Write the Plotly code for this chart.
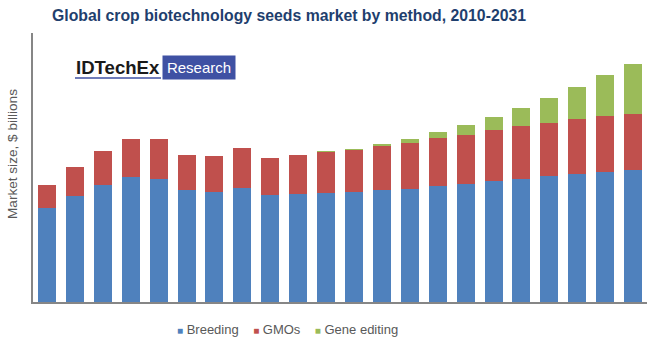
import plotly.graph_objects as go

years = [str(y) for y in range(2010, 2032)]
breeding = [9.4, 10.6, 11.7, 12.5, 12.3, 11.2, 11.0, 11.4, 10.7, 10.8, 10.9, 11.0,
            11.2, 11.3, 11.6, 11.8, 12.1, 12.3, 12.6, 12.8, 13.0, 13.2]
gmos = [2.3, 2.9, 3.4, 3.8, 4.0, 3.5, 3.6, 4.0, 3.7, 3.9, 4.1, 4.2,
        4.4, 4.6, 4.8, 4.9, 5.1, 5.3, 5.3, 5.5, 5.6, 5.6]
gene_editing = [0, 0, 0, 0, 0, 0, 0, 0, 0, 0, 0.07, 0.1,
                0.23, 0.4, 0.57, 0.97, 1.34, 1.8, 2.5, 3.2, 4.07, 4.96]

series = [("Breeding", breeding, "#4F81BD"),
          ("GMOs", gmos, "#C0504D"),
          ("Gene editing", gene_editing, "#9BBB59")]

fig = go.Figure()
for name, vals, col in series:
    fig.add_trace(go.Bar(x=years, y=vals, name=name, marker_color=col,
                         marker_line_width=0, showlegend=False))

W, H = 652, 343
L, R, T, B = 33, 5, 33, 41
PW, PH = W - L - R, H - T - B

def px(x):
    return (x - L) / PW

def py(y):
    return (H - B - y) / PH

fig.update_layout(
    width=W, height=H,
    barmode="stack", bargap=0.355,
    plot_bgcolor="white", paper_bgcolor="white",
    margin=dict(l=L, r=R, t=T, b=B),
    font=dict(family="Liberation Sans, Arial, sans-serif", color="#595959", size=13),
    title=dict(text="<b>Global crop biotechnology seeds market by method, 2010-2031</b>",
               x=52 / W, xanchor="left", y=1 - 15 / H, yanchor="middle",
               font=dict(size=15.8, color="#1F3F6E", family="Liberation Sans, Arial, sans-serif")),
    xaxis=dict(showticklabels=False, ticks="", showline=True, linecolor="#868686",
               linewidth=2, showgrid=False, zeroline=False),
    yaxis=dict(range=[0, 26.9], showticklabels=False, ticks="", showline=True,
               linecolor="#868686", linewidth=2, showgrid=False, zeroline=False),
    showlegend=False,
)

# y-axis title
fig.add_annotation(text="Market size, $ billions", textangle=-90, xref="paper", yref="paper",
                   x=px(12), y=py(154), xanchor="center", yanchor="middle",
                   showarrow=False, font=dict(size=13.6, color="#595959"))

# legend (as text)
sq = "<span style='color:{c};font-size:10px'>■</span>"
gap = "&nbsp;" * 4
legend_text = gap.join(sq.format(c=col) + "&nbsp;" + name for name, _, col in series)
fig.add_annotation(text=legend_text, xref="paper", yref="paper",
                   x=px(287), y=py(330), xanchor="center", yanchor="middle",
                   showarrow=False, font=dict(size=13, color="#595959"))

# logo
fig.add_annotation(text="<b>IDTechEx</b>", xref="paper", yref="paper",
                   x=px(74), y=py(67), xanchor="left", yanchor="middle",
                   showarrow=False, font=dict(size=18.6, color="#1a1a1a"))
fig.add_shape(type="line", xref="paper", yref="paper",
              x0=px(75), x1=px(161), y0=py(78), y1=py(78),
              line=dict(color="#3F51A3", width=1.5))
fig.add_annotation(text="Research", xref="paper", yref="paper",
                   x=px(199), y=py(67.5), xanchor="center", yanchor="middle",
                   showarrow=False, bgcolor="#3F51A3", borderpad=3, width=66,
                   font=dict(size=15, color="white"))

fig.write_html("out.html")
